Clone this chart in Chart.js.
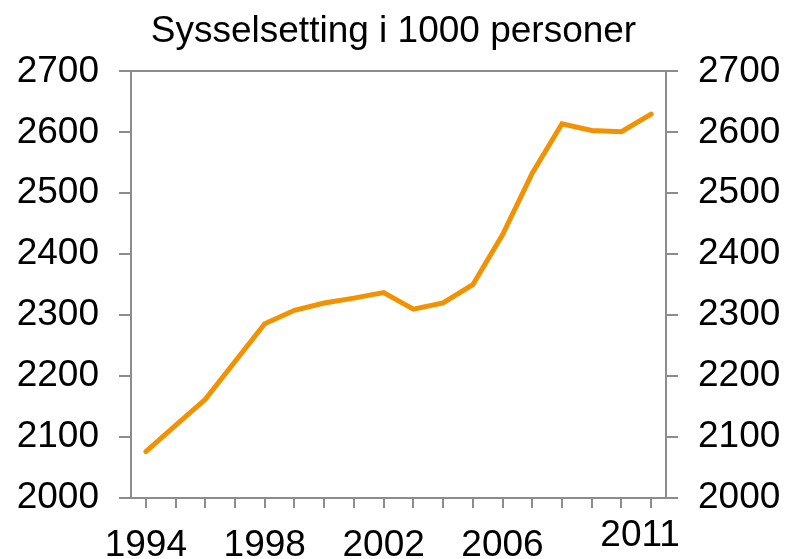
<!DOCTYPE html>
<html>
<head>
<meta charset="utf-8">
<script src="https://cdn.jsdelivr.net/npm/chart.js@4/dist/chart.umd.min.js"></script>
<style>
    body { margin: 0; background: #fff; }
    #wrap { width: 787px; height: 559px; }
</style>
</head>
<body>
<div id="wrap"><canvas id="employmentChart" width="787" height="559"></canvas></div>
<script>
// Chart data
const years = ['1994', '1995', '1996', '1997', '1998', '1999', '2000', '2001', '2002',
    '2003', '2004', '2005', '2006', '2007', '2008', '2009', '2010', '2011'];
const employed = [2076, 2119, 2162, 2224, 2286, 2308, 2320, 2328, 2337,
    2310, 2320, 2350, 2432, 2533, 2614, 2603, 2601, 2630];
const shownYears = ['1994', '1998', '2002', '2006'];
const raisedYear = '2011'; // label drawn slightly higher, as in the original
const yMin = 2000;
const yMax = 2700;
const yStep = 100;

const axisGrey = '#8c8c8c';
const lineOrange = '#F39200';
const fontFamily = 'Arial, "Liberation Sans", sans-serif';
const fontSize = 37;

// Draws the raised 2011 label under its category
const raisedLabelPlugin = {
    id: 'raisedLabel',
    afterDraw(chart) {
        const xScale = chart.scales.x;
        const ctx = chart.ctx;
        const x = xScale.getPixelForValue(years.indexOf(raisedYear));
        ctx.save();
        ctx.font = fontSize + 'px ' + fontFamily;
        ctx.fillStyle = '#000';
        ctx.textAlign = 'center';
        ctx.textBaseline = 'top';
        ctx.fillText(raisedYear, x - 11, xScale.top + 19);
        ctx.restore();
    }
};

function yAxis(position, width) {
    return {
        type: 'linear',
        position: position,
        min: yMin,
        max: yMax,
        afterFit: function(scale) { scale.width = width; },
        ticks: {
            stepSize: yStep,
            color: '#000',
            padding: 20,
            font: { family: fontFamily, size: fontSize },
            callback: value => String(value)
        },
        grid: {
            // only the top line closes the plot frame
            color: ctx => (ctx.tick && ctx.tick.value === yMax) ? axisGrey : 'rgba(0,0,0,0)',
            tickColor: axisGrey,
            lineWidth: 2,
            tickLength: 12
        },
        border: { display: true, color: axisGrey, width: 2 }
    };
}

const ctx = document.getElementById('employmentChart').getContext('2d');
const employmentChart = new Chart(ctx, {
    type: 'line',
    data: {
        labels: years,
        datasets: [{
            label: 'Sysselsetting',
            data: employed,
            borderColor: lineOrange,
            backgroundColor: lineOrange,
            borderWidth: 5,
            borderCapStyle: 'round',
            borderJoinStyle: 'miter',
            pointRadius: 0,
            tension: 0,
            yAxisID: 'y'
        }]
    },
    options: {
        responsive: false,
        animation: false,
        layout: { padding: 0 },
        plugins: {
            legend: { display: false },
            tooltip: { enabled: false },
            title: {
                display: true,
                text: 'Sysselsetting i 1000 personer',
                color: '#000',
                font: { family: fontFamily, size: 37, weight: 'normal' },
                padding: { top: 10, bottom: 17 }
            }
        },
        scales: {
            x: {
                type: 'category',
                offset: true,
                afterFit: function(scale) { scale.height = 61; },
                ticks: {
                    autoSkip: false,
                    maxRotation: 0,
                    color: '#000',
                    padding: 16,
                    font: { family: fontFamily, size: fontSize },
                    callback: function(value) {
                        const label = this.getLabelForValue(value);
                        return shownYears.includes(label) ? label : '';
                    }
                },
                grid: {
                    drawOnChartArea: false,
                    color: axisGrey,
                    lineWidth: 2,
                    tickLength: 10
                },
                border: { display: true, color: axisGrey, width: 2 }
            },
            y: yAxis('left', 131),
            y2: yAxis('right', 121)
        }
    },
    plugins: [raisedLabelPlugin]
});
</script>
</body>
</html>
